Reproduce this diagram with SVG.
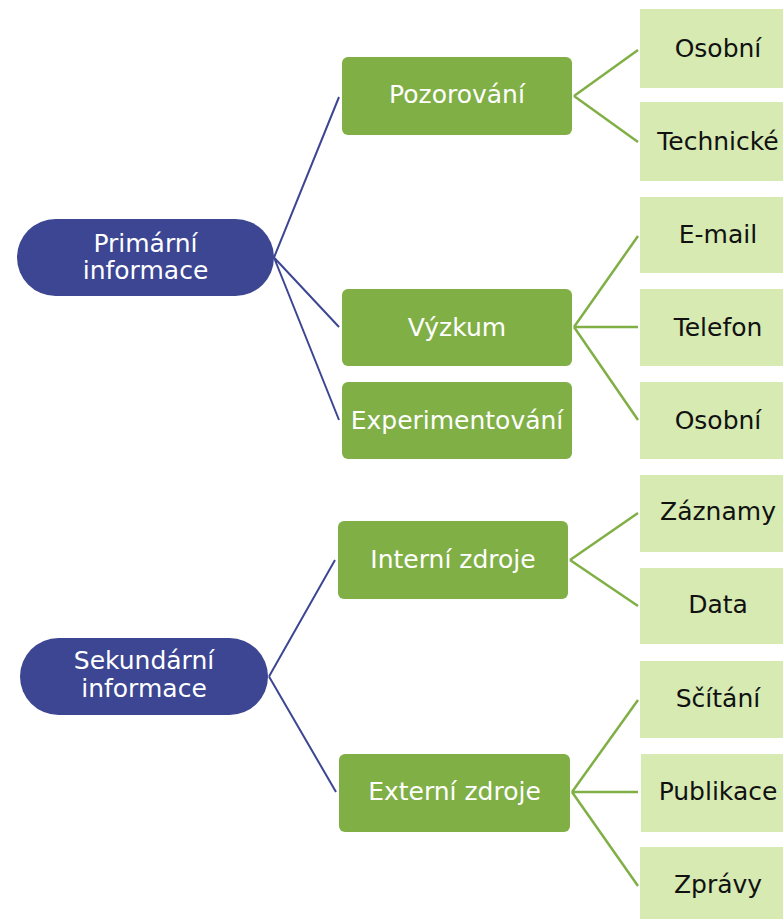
<svg xmlns="http://www.w3.org/2000/svg" width="783" height="919" viewBox="0 0 783 919">
<style>
.pill{fill:#3C4692}
.mid{fill:#80AF46}
.leaf{fill:#D6EAB2}
text{font-family:"DejaVu Sans","Liberation Sans",sans-serif;font-size:25px;text-anchor:middle}
.w{fill:#ffffff}
.b{fill:#111111}
.cb{stroke:#3C4692;stroke-width:2;fill:none}
.cg{stroke:#80AF46;stroke-width:2.5;fill:none}
</style>
<rect width="783" height="919" fill="#ffffff"/>
<g id="connectors">
<path class="cb" d="M274 257.5 L339 97 M274 257.5 L339 327 M274 257.5 L339 420"/>
<path class="cb" d="M269 676.5 L335 560 M269 676.5 L336 792"/>
<path class="cg" d="M574 96 L638 50 M574 96 L638 142"/>
<path class="cg" d="M574 327 L638 236 M574 327 L638 327 M574 327 L638 420"/>
<path class="cg" d="M570 560 L638 513 M570 560 L638 606"/>
<path class="cg" d="M572 792 L638 700 M572 792 L638 792 M572 792 L638 886"/>
</g>
<g id="primarni">
<rect class="pill" x="17" y="219" width="257" height="77" rx="38.5"/>
<text class="w" x="145.5" y="252">Primární</text>
<text class="w" x="145.5" y="279">informace</text>
</g>
<g id="pozorovani">
<rect class="mid" x="342" y="57" width="230" height="78" rx="6"/>
<text class="w" x="457" y="103">Pozorování</text>
</g>
<g id="vyzkum">
<rect class="mid" x="342" y="289" width="230" height="77" rx="6"/>
<text class="w" x="457" y="336">Výzkum</text>
</g>
<g id="experimentovani">
<rect class="mid" x="342" y="382" width="230" height="77" rx="6"/>
<text class="w" x="457" y="429">Experimentování</text>
</g>
<g id="osobni1">
<rect class="leaf" x="640" y="9" width="160" height="79"/>
<text class="b" x="718" y="57">Osobní</text>
</g>
<g id="technicke">
<rect class="leaf" x="640" y="102" width="160" height="79"/>
<text class="b" x="718" y="150">Technické</text>
</g>
<g id="email">
<rect class="leaf" x="640" y="197" width="160" height="76"/>
<text class="b" x="718" y="243">E-mail</text>
</g>
<g id="telefon">
<rect class="leaf" x="640" y="289" width="160" height="77"/>
<text class="b" x="718" y="336">Telefon</text>
</g>
<g id="osobni2">
<rect class="leaf" x="640" y="382" width="160" height="77"/>
<text class="b" x="718" y="429">Osobní</text>
</g>
<g id="sekundarni">
<rect class="pill" x="20" y="638" width="248" height="77" rx="38.5"/>
<text class="w" x="144" y="669">Sekundární</text>
<text class="w" x="144" y="697">informace</text>
</g>
<g id="interni">
<rect class="mid" x="338" y="521" width="230" height="78" rx="6"/>
<text class="w" x="453" y="568">Interní zdroje</text>
</g>
<g id="externi">
<rect class="mid" x="339" y="754" width="231" height="78" rx="6"/>
<text class="w" x="454.5" y="800">Externí zdroje</text>
</g>
<g id="zaznamy">
<rect class="leaf" x="640" y="475" width="160" height="77"/>
<text class="b" x="718" y="520">Záznamy</text>
</g>
<g id="data">
<rect class="leaf" x="640" y="568" width="160" height="76"/>
<text class="b" x="718" y="613">Data</text>
</g>
<g id="scitani">
<rect class="leaf" x="640" y="661" width="160" height="77"/>
<text class="b" x="718" y="707">Sčítání</text>
</g>
<g id="publikace">
<rect class="leaf" x="641" y="754" width="160" height="78"/>
<text class="b" x="718" y="800">Publikace</text>
</g>
<g id="zpravy">
<rect class="leaf" x="640" y="847" width="160" height="80"/>
<text class="b" x="718" y="893">Zprávy</text>
</g>
</svg>
